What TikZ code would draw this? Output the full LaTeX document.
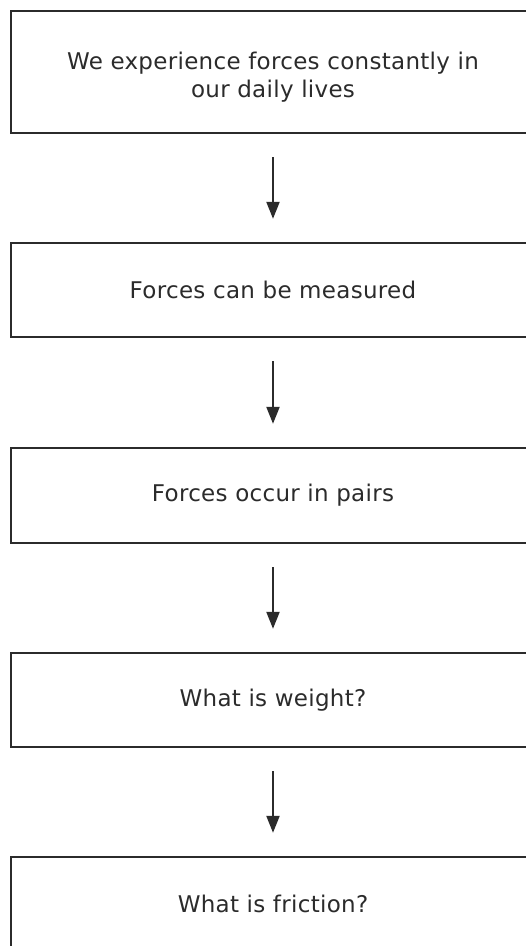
\documentclass[tikz,border=0pt]{standalone}
\usepackage{fontspec}
\setmainfont[LetterSpace=1.3]{DejaVu Sans}
\usetikzlibrary{arrows.meta}
\definecolor{ink}{HTML}{2B2B2B}
\begin{document}
\begin{tikzpicture}[x=1pt,y=-1pt,
  stepbox/.style={draw=ink, line width=2.4pt, rectangle, inner sep=0pt,
    minimum width=524pt, align=center, text=ink,
    font=\fontsize{23}{28}\selectfont},
  flow/.style={draw=ink, line width=2.2pt,
    -{Triangle[width=13pt,length=17pt]}, shorten <=23pt, shorten >=23pt}]
\useasboundingbox (0,0) rectangle (526,946);
\clip (0,0) rectangle (526,946);
\node[stepbox, minimum height=122pt] (b1) at (273,72)
  {\rule{0pt}{28pt}We experience forces constantly in\\our daily lives};
\node[stepbox, minimum height=94pt] (b2) at (273,290) {Forces can be measured};
\node[stepbox, minimum height=95pt] (b3) at (273,495.5) {Forces occur in pairs};
\node[stepbox, minimum height=94pt] (b4) at (273,700) {What is weight?};
\node[stepbox, minimum height=94pt] (b5) at (273,904) {What is friction?};
\draw[flow] (b1.south) -- (b2.north);
\draw[flow] (b2.south) -- (b3.north);
\draw[flow] (b3.south) -- (b4.north);
\draw[flow] (b4.south) -- (b5.north);
\end{tikzpicture}
\end{document}
